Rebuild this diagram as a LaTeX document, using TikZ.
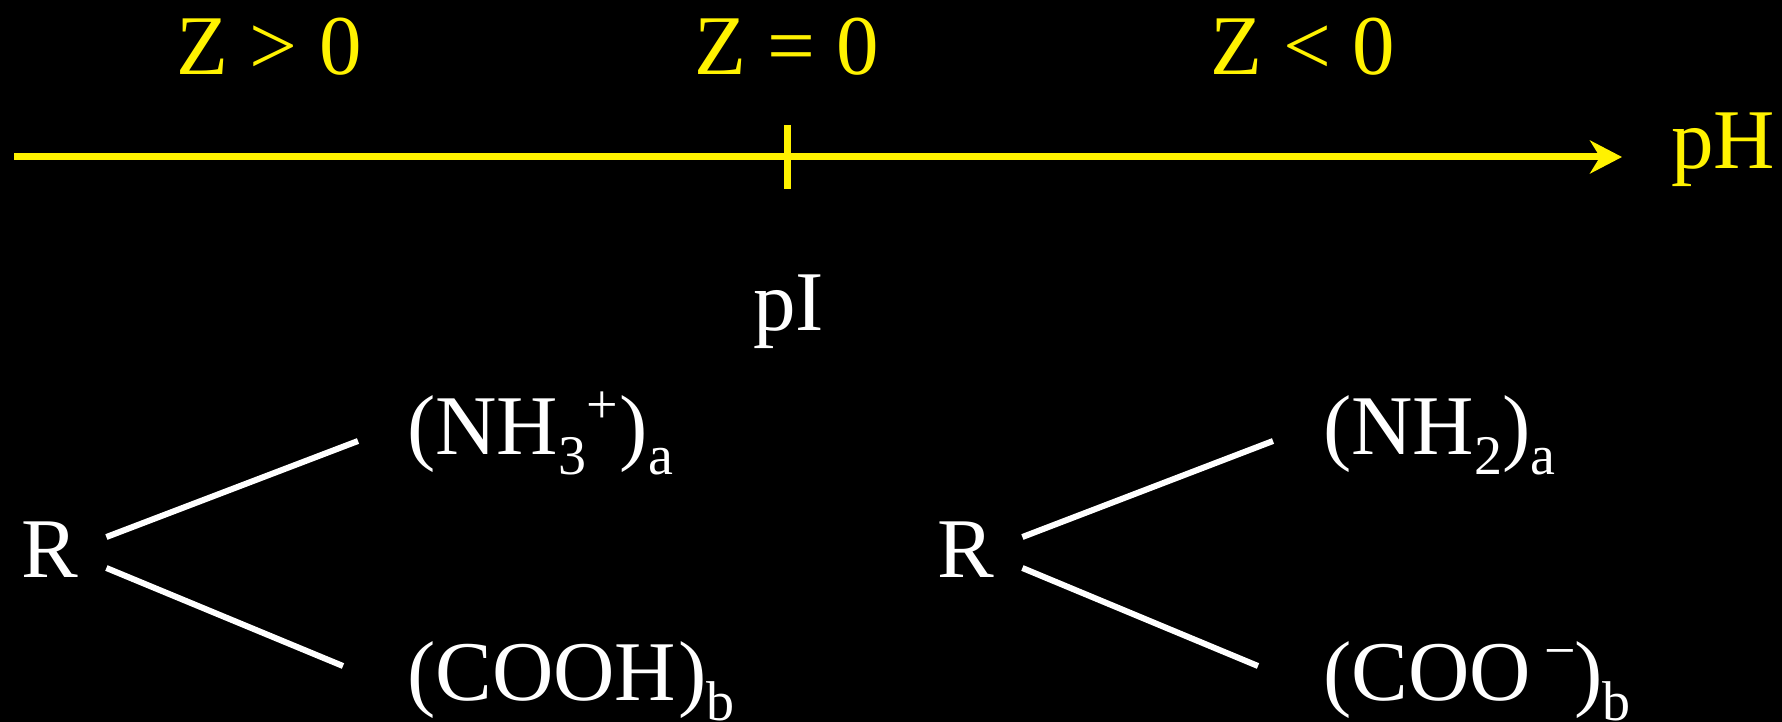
\documentclass[tikz,border=0pt]{standalone}
\usepackage{fontspec}
\setmainfont{Liberation Serif}
\usetikzlibrary{arrows.meta}
\newcommand{\lowtxt}[1]{\raisebox{-20pt}{\fontsize{56}{60}\selectfont #1}}
\newcommand{\hightxt}[1]{\raisebox{31pt}{\fontsize{56}{60}\selectfont #1}}
\tikzset{
  zonelabel/.style={
    anchor=base west, inner sep=0pt, text=yellow,
    font=\fontsize{85}{90}\selectfont
  },
  grouplabel/.style={
    anchor=base west, inner sep=0pt, text=white,
    font=\fontsize{85}{90}\selectfont
  },
  axisarrow/.style={
    -{Stealth[length=32pt, width=33pt, inset=10pt]}, line width=7pt, color=yellow
  },
  axistick/.style={line width=7pt, color=yellow},
  bondline/.style={line width=6pt, color=white},
}
\begin{document}
\begin{tikzpicture}[x=1pt, y=-1pt]
  \fill[black] (0,0) rectangle (1782,722);
  \useasboundingbox (0,0) rectangle (1782,722);
  \node[zonelabel] at (176.5,75) (zpos) {Z > 0};
  \node[zonelabel] at (694,75) (zzero) {Z = 0};
  \node[zonelabel] at (1210,75) (zneg) {Z < 0};
  \node[zonelabel] at (1671,169) (ph) {pH};
  \coordinate (axisstart) at (14,157);
  \coordinate (ticktop) at (787,125);
  \coordinate (tickbot) at (787,189);
  \draw[axisarrow] (axisstart) -- ([xshift=-49pt, yshift=12pt]ph.base west);
  \draw[axistick] (ticktop) -- (tickbot);
  \node[grouplabel] at (753,330) (pi) {pI};
  \node[grouplabel] at (21,577) (rleft) {R};
  \node[grouplabel] at (407,454) (nhthree) {(NH\lowtxt{3}\hightxt{+}\kern2pt)\lowtxt{a}};
  \node[grouplabel] at (407,700) (cooh) {(COOH\kern2pt)\lowtxt{b}};
  \draw[bondline] ([xshift=28.3pt, yshift=40pt]rleft.base east) -- ([xshift=-49pt, yshift=13pt]nhthree.base west);
  \draw[bondline] ([xshift=28.3pt, yshift=9pt]rleft.base east) -- ([xshift=-64pt, yshift=34pt]cooh.base west);
  \node[grouplabel] at (937,577) (rright) {R};
  \node[grouplabel] at (1323,454) (nhtwo) {(NH\lowtxt{2})\lowtxt{a}};
  \node[grouplabel] at (1323,700) (coo) {(COO\kern14pt\hightxt{−}\kern-2pt)\lowtxt{b}};
  \draw[bondline] ([xshift=28.3pt, yshift=40pt]rright.base east) -- ([xshift=-50pt, yshift=13pt]nhtwo.base west);
  \draw[bondline] ([xshift=28.3pt, yshift=9pt]rright.base east) -- ([xshift=-65pt, yshift=34pt]coo.base west);
\end{tikzpicture}
\end{document}
